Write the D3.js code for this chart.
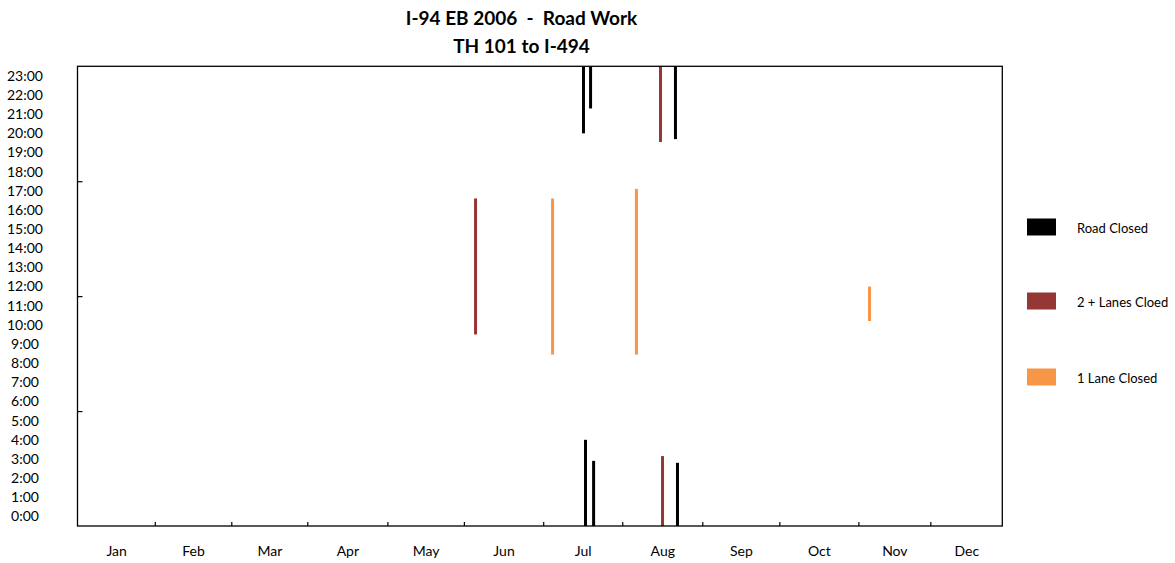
<!DOCTYPE html>
<html><head><meta charset="utf-8">
<script src="https://cdn.jsdelivr.net/npm/d3@7"></script>
<style>
html,body{margin:0;padding:0;background:#fff;}
text{font-family:Lato,"Open Sans",sans-serif;fill:#000;}
</style></head>
<body><svg id="chart" width="1175" height="563"></svg>
<script>
// ---- data ----
const titleLines = ["I-94 EB 2006  -  Road Work", "TH 101 to I-494"];
const months = ["Jan","Feb","Mar","Apr","May","Jun","Jul","Aug","Sep","Oct","Nov","Dec"];
// month boundary tick positions (day of year)
const monthTicks = [30.5, 60.7, 90.7, 122.3, 152.5, 183.8, 215.0, 246.6, 277.0, 308.2, 336.6];
const hourLabels = d3.range(0, 24);
const hourTicks = [6, 12, 18];
const seriesNames = ["Road Closed", "2 + Lanes Cloed", "1 Lane Closed"];
const seriesColors = ["#000000", "#953735", "#F79646"];
// closures: day of year, start hour, end hour
const roadDay   = [199.7, 202.5, 236.0, 200.5, 203.7, 236.8];
const roadStart = [20.5, 21.8, 20.2, 0, 0, 0];
const roadEnd   = [24, 24, 24, 4.5, 3.4, 3.3];
const twoDay    = [157.1, 230.1, 230.9];
const twoStart  = [10.0, 20.05, 0];
const twoEnd    = [17.1, 24, 3.65];
const oneDay    = [187.5, 220.6, 312.6];
const oneStart  = [8.95, 8.95, 10.7];
const oneEnd    = [17.1, 17.6, 12.5];

// ---- layout ----
const svg = d3.select("#chart");
const L = 77.5, R = 1002.3, T = 66.3, B = 526;
const x = d3.scaleLinear().domain([0, 365]).range([L, R]);
const y = d3.scaleLinear().domain([0, 24]).range([B, T]);

// title
svg.append("g").selectAll("text").data(titleLines).join("text")
  .attr("x", 521.5).attr("y", (d,i) => 25 + i*28)
  .attr("text-anchor", "middle")
  .style("font-weight", "bold").style("font-size", "19px")
  .style("white-space", "pre").attr("xml:space", "preserve")
  .text(d => d);

// bars
const series = [
  {day: roadDay, s: roadStart, e: roadEnd},
  {day: twoDay, s: twoStart, e: twoEnd},
  {day: oneDay, s: oneStart, e: oneEnd}
];
series.forEach((sr, k) => {
  const recs = sr.day.map((d,i) => ({day: d, s: sr.s[i], e: sr.e[i]}));
  svg.append("g").selectAll("rect").data(recs).join("rect")
    .attr("x", d => x(d.day) - 1.5).attr("width", 3)
    .attr("y", d => y(d.e)).attr("height", d => y(d.s) - y(d.e))
    .attr("fill", seriesColors[k]);
});

// frame
svg.append("rect").attr("x", L).attr("y", T).attr("width", R - L).attr("height", B - T)
  .attr("fill", "none").attr("stroke", "#000").attr("stroke-width", 1.3);

// x ticks
const xAxis = d3.axisBottom(x).tickValues(monthTicks).tickSizeInner(-4).tickSizeOuter(0).tickFormat("");
const gx = svg.append("g").attr("transform", `translate(0,${B})`).call(xAxis);
gx.select(".domain").remove();
gx.selectAll("line").attr("stroke", "#000").attr("stroke-width", 1.2);

// month labels at midpoints between boundaries
const bounds = [0, ...monthTicks, 365];
const mids = months.map((m, i) => (bounds[i] + bounds[i+1]) / 2);
const xLab = d3.axisBottom(x).tickValues(mids).tickSize(0).tickFormat((d,i) => months[i]);
const gxl = svg.append("g").attr("transform", `translate(0,${B})`).call(xLab);
gxl.select(".domain").remove();
gxl.selectAll("text").attr("dy", 0).attr("y", 30).style("font-size", "14px").style("font-family", "Lato");

// y ticks
const yAxis = d3.axisLeft(y).tickValues(hourTicks).tickSizeInner(-5).tickSizeOuter(0).tickFormat("");
const gy = svg.append("g").attr("transform", `translate(${L},0)`).call(yAxis);
gy.select(".domain").remove();
gy.selectAll("line").attr("stroke", "#000").attr("stroke-width", 1.2);

// y labels centered in hour bands
svg.append("g").selectAll("text").data(hourLabels).join("text")
  .attr("x", 25).attr("y", h => y(h + 0.5)).attr("dy", "0.35em")
  .attr("text-anchor", "middle").style("font-size", "14px")
  .text(h => h + ":00");

// legend
const lg = svg.append("g");
const legY = [227, 301, 377];
seriesNames.forEach((n, i) => {
  lg.append("rect").attr("x", 1027).attr("y", legY[i] - 8.5).attr("width", 29).attr("height", 17)
    .attr("fill", seriesColors[i]);
  lg.append("text").attr("x", 1077).attr("y", legY[i] + 1.5).attr("dy", "0.35em")
    .style("font-size", "13px").text(n);
});
</script></body></html>
